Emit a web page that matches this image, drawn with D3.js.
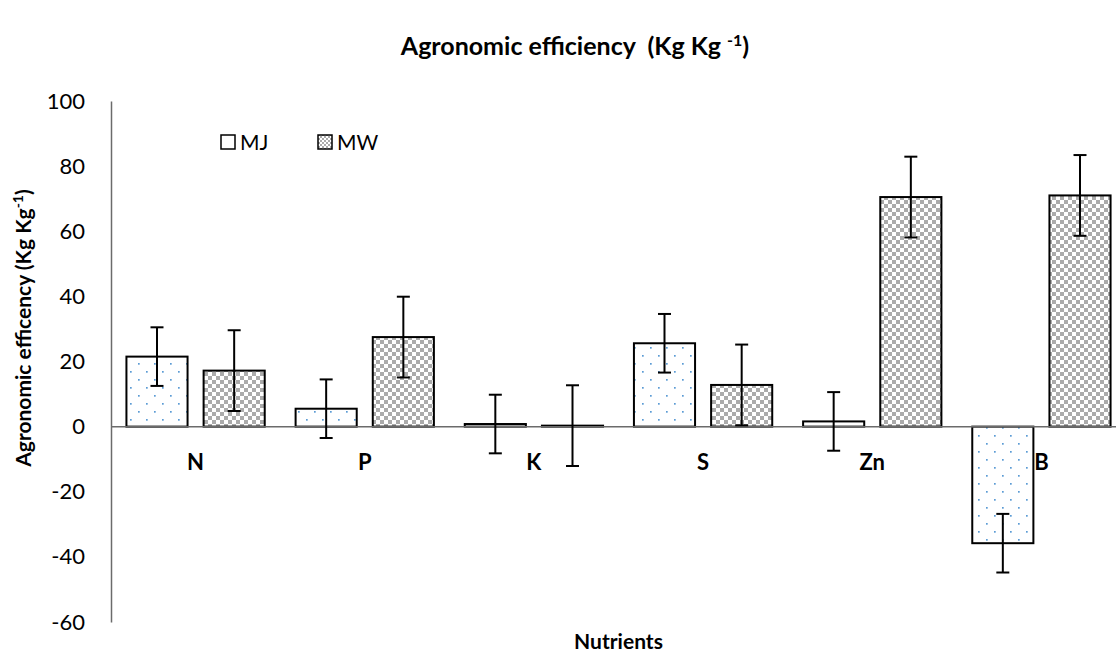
<!DOCTYPE html>
<html>
<head>
<meta charset="utf-8">
<script src="https://cdn.jsdelivr.net/npm/d3@7/dist/d3.min.js"></script>
<style>
  html, body { margin: 0; padding: 0; background: #fff; }
  svg { display: block; font-family: Lato, "Open Sans", sans-serif; }
  .pre { white-space: pre; }
</style>
</head>
<body>
<svg id="chart" width="1116" height="655"></svg>
<script>
// Agronomic efficiency per nutrient, two sites
const nutrients = ["N", "P", "K", "S", "Zn", "B"];
const seriesNames = ["MJ", "MW"];
const mjValues = [21.5, 5.5, 0.8, 25.6, 1.6, -35.8];
const mwValues = [17.2, 27.5, 0.3, 12.8, 70.5, 71.0];
const mjErrors = [9.0, 9.0, 9.0, 9.0, 9.0, 9.0];
const mwErrors = [12.4, 12.4, 12.4, 12.4, 12.4, 12.4];
const yTicks = [-60, -40, -20, 0, 20, 40, 60, 80, 100];

const rows = [];
nutrients.forEach((n, i) => {
  rows.push({ cat: n, series: "MJ", value: mjValues[i], err: mjErrors[i] });
  rows.push({ cat: n, series: "MW", value: mwValues[i], err: mwErrors[i] });
});

const svg = d3.select("#chart");
const W = 1116, H = 655;
const plot = { left: 111, right: 1126, top: 101, bottom: 622 };

svg.append("rect").attr("width", W).attr("height", H).attr("fill", "#fff");

// fill patterns
const defs = svg.append("defs");
const dots = defs.append("pattern")
  .attr("id", "dots").attr("patternUnits", "userSpaceOnUse")
  .attr("width", 16).attr("height", 16);
dots.append("rect").attr("width", 16).attr("height", 16).attr("fill", "#fff");
[[2, 3], [10, 11]].forEach(([x, y]) => {
  dots.append("rect").attr("x", x).attr("y", y).attr("width", 1.7).attr("height", 1.7).attr("fill", "#5b9bd5");
});

const checker = defs.append("pattern")
  .attr("id", "checker").attr("patternUnits", "userSpaceOnUse")
  .attr("width", 8).attr("height", 8);
checker.append("rect").attr("width", 8).attr("height", 8).attr("fill", "#fff");
checker.append("rect").attr("width", 4).attr("height", 4).attr("fill", "#ababab");
checker.append("rect").attr("x", 4).attr("y", 4).attr("width", 4).attr("height", 4).attr("fill", "#ababab");

const checkerSmall = defs.append("pattern")
  .attr("id", "checkerSmall").attr("patternUnits", "userSpaceOnUse")
  .attr("width", 4).attr("height", 4);
checkerSmall.append("rect").attr("width", 4).attr("height", 4).attr("fill", "#fff");
checkerSmall.append("rect").attr("width", 2).attr("height", 2).attr("fill", "#ababab");
checkerSmall.append("rect").attr("x", 2).attr("y", 2).attr("width", 2).attr("height", 2).attr("fill", "#ababab");

const fills = { MJ: "url(#dots)", MW: "url(#checker)" };

// scales
const x0 = d3.scaleBand().domain(nutrients).range([plot.left, plot.right]).padding(0);
const x1 = d3.scaleBand().domain(seriesNames).range([0, x0.bandwidth()])
  .paddingInner(0.208).paddingOuter(0.2);
const y = d3.scaleLinear().domain([-60, 100]).range([plot.bottom, plot.top]);

// y axis (labels only, no tick marks)
const yAxis = d3.axisLeft(y).tickValues(yTicks).tickSize(0).tickPadding(26)
  .tickFormat(d => String(d));
const gy = svg.append("g").attr("transform", `translate(${plot.left},0)`).call(yAxis);
gy.select(".domain").attr("stroke", "#6b6b6b").attr("stroke-width", 1.5);
gy.selectAll("text").attr("font-size", 22).attr("fill", "#000")
  .attr("font-family", "Lato, sans-serif");

// bars
svg.append("g").selectAll("rect").data(rows).join("rect")
  .attr("x", d => x0(d.cat) + x1(d.series))
  .attr("width", x1.bandwidth())
  .attr("y", d => y(Math.max(0, d.value)))
  .attr("height", d => Math.abs(y(d.value) - y(0)))
  .attr("fill", d => fills[d.series])
  .attr("stroke", "#000").attr("stroke-width", 2);

// zero line (category axis)
svg.append("line")
  .attr("x1", plot.left).attr("x2", plot.right)
  .attr("y1", y(0)).attr("y2", y(0))
  .attr("stroke", "#6b6b6b").attr("stroke-width", 1.5);

// error bars
const eb = svg.append("g").attr("stroke", "#000").attr("stroke-width", 2);
rows.forEach(d => {
  const cx = x0(d.cat) + x1(d.series) + x1.bandwidth() / 2;
  const yTop = y(d.value + d.err), yBot = y(d.value - d.err);
  eb.append("line").attr("x1", cx).attr("x2", cx).attr("y1", yTop).attr("y2", yBot);
  eb.append("line").attr("x1", cx - 6.5).attr("x2", cx + 6.5).attr("y1", yTop).attr("y2", yTop);
  eb.append("line").attr("x1", cx - 6.5).attr("x2", cx + 6.5).attr("y1", yBot).attr("y2", yBot);
});

// category labels
svg.append("g").selectAll("text").data(nutrients).join("text")
  .attr("x", d => x0(d) + x0.bandwidth() / 2)
  .attr("y", 470)
  .attr("text-anchor", "middle")
  .attr("font-size", 22).attr("font-weight", "bold")
  .text(d => d);

// chart title
const title = svg.append("text")
  .attr("class", "pre")
  .attr("x", 575).attr("y", 55)
  .attr("text-anchor", "middle")
  .attr("font-size", 25).attr("font-weight", "bold");
title.append("tspan").text("Agronomic efficiency  (Kg Kg ");
title.append("tspan").attr("font-size", 16).attr("dy", -9).text("-1");
title.append("tspan").attr("dy", 9).text(")");

// axis titles
svg.append("text")
  .attr("x", (plot.left + plot.right) / 2).attr("y", 649)
  .attr("text-anchor", "middle")
  .attr("font-size", 21).attr("font-weight", "bold")
  .text("Nutrients");

const yTitle = svg.append("text")
  .attr("transform", "translate(31,328) rotate(-90)")
  .attr("text-anchor", "middle")
  .attr("font-size", 21).attr("font-weight", "bold");
yTitle.append("tspan").text("Agronomic efficency (Kg Kg");
yTitle.append("tspan").attr("font-size", 14).attr("dy", -8).text("-1");
yTitle.append("tspan").attr("dy", 8).text(")");

// legend
const legend = svg.append("g");
const legendItems = [
  { name: "MJ", x: 221, fill: "#fff" },
  { name: "MW", x: 318, fill: "url(#checkerSmall)" }
];
legendItems.forEach(it => {
  legend.append("rect")
    .attr("x", it.x).attr("y", 135).attr("width", 14).attr("height", 14)
    .attr("fill", it.fill).attr("stroke", "#000").attr("stroke-width", 1.5);
  legend.append("text")
    .attr("x", it.x + 19).attr("y", 150)
    .attr("font-size", 21)
    .text(it.name);
});
</script>
</body>
</html>
